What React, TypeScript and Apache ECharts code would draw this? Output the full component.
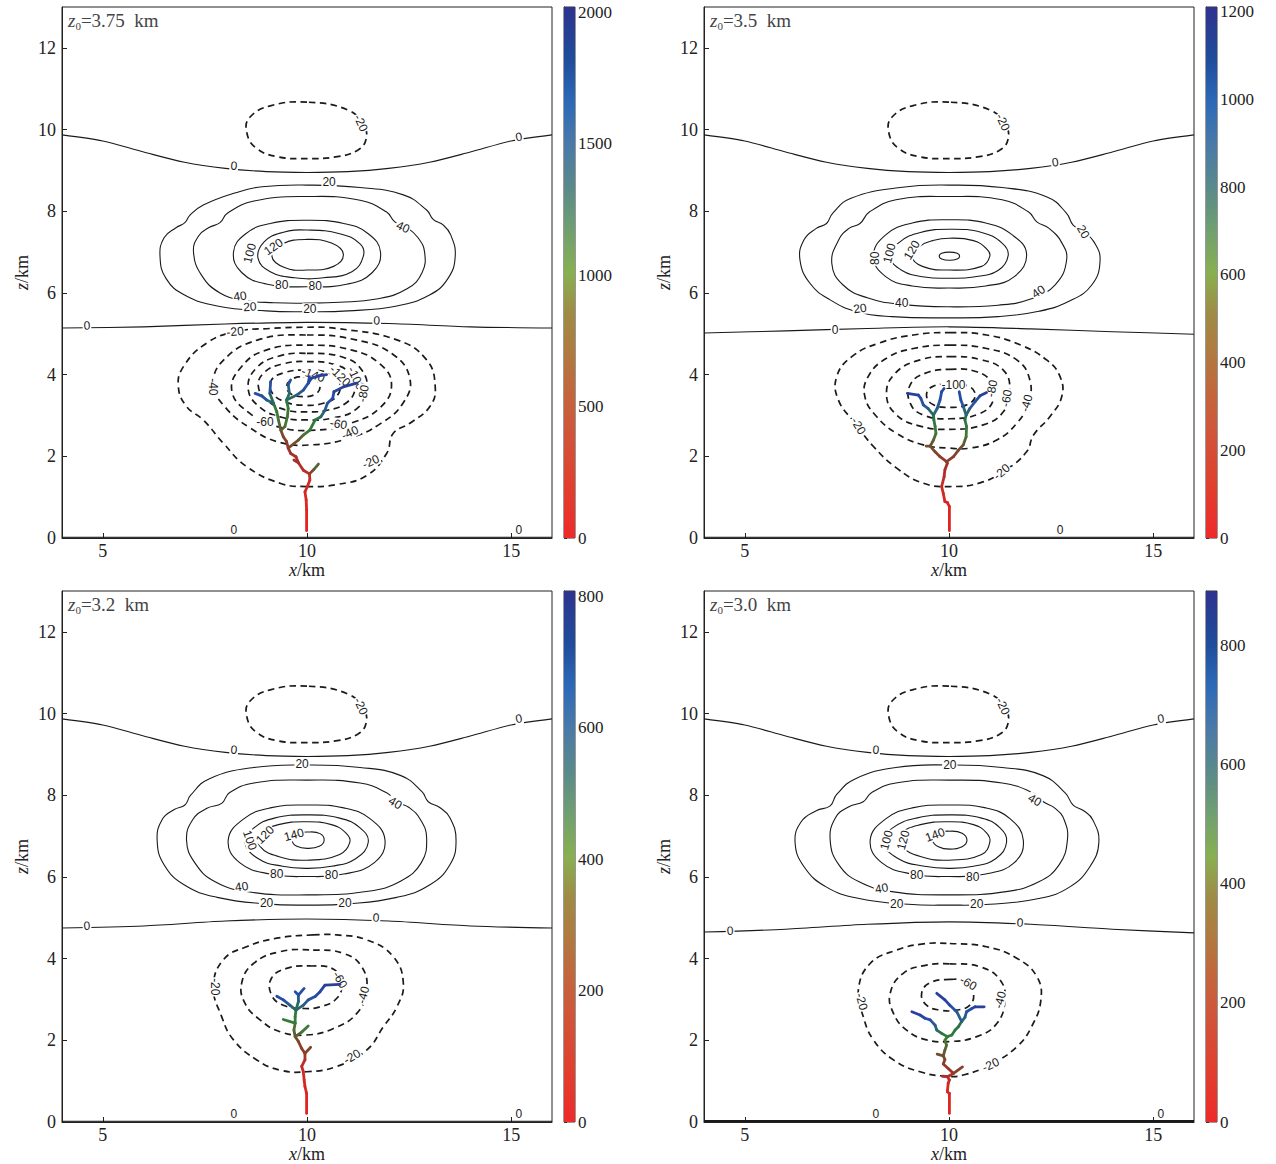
import React, { useEffect, useRef } from 'react';
import * as echarts from 'echarts';

const SERIF = '"Liberation Serif", "Times New Roman", serif';
const SANS = '"Liberation Sans", Arial, sans-serif';

// ---------- axes ----------
const X_TICKS = [5, 10, 15];
const Y_TICKS = [0, 2, 4, 6, 8, 10, 12];
const CB1_TICKS = [0, 500, 1000, 1500, 2000];
const CB2_TICKS = [0, 200, 400, 600, 800, 1000, 1200];
const CB3_TICKS = [0, 200, 400, 600, 800];
const CB4_TICKS = [0, 200, 400, 600, 800];
const CB_MAX = [2020, 1211, 808, 892];
const TITLES = ['3.75', '3.5', '3.2', '3.0'];

// ---------- colour maps ----------
const CB_STOPS = [
  [0, '#ee2a2a'], [0.1, '#e0402e'], [0.2, '#d0553a'], [0.27, '#c4653c'], [0.35, '#b07a40'],
  [0.42, '#a08a45'], [0.5, '#88b050'], [0.58, '#70a070'], [0.66, '#5a8a8a'], [0.74, '#4a7aa8'],
  [0.82, '#2c6ab8'], [0.9, '#1f4d9c'], [1, '#2e3390'],
];
const TREE_COLORS = ['#e8201e', '#d02a24', '#a8302a', '#87402a', '#6a5230', '#3f7a36', '#2e7a3c', '#2a6a60', '#2856a0', '#244aa8', '#2a3e9c'];

// ---------- shared contours ----------
const UPPER_ZERO = [[4, 9.87], [5, 9.72], [6, 9.45], [7, 9.2], [8, 9.05], [9, 8.97], [10, 8.95], [11, 8.97], [12, 9.05], [13, 9.2], [14, 9.45], [15, 9.72], [16, 9.87]];
const UPPER_NEG20 = [[10, 10.67], [9.1, 10.58], [8.6, 10.3], [8.52, 9.95], [8.75, 9.55], [9.3, 9.33], [10, 9.29], [10.7, 9.33], [11.25, 9.5], [11.45, 9.78], [11.38, 10.12], [11.0, 10.48]];
const GROUND_ZERO = [[4, 0.02], [16, 0.02]];

// ---------- panel 1 (z0 = 3.75 km) ----------
const P1_ZERO = [[4, 5.14], [6, 5.17], [8, 5.24], [10, 5.28], [12, 5.25], [14, 5.17], [16, 5.14]];
const P1_C20 = [[10, 8.64], [11.3, 8.58], [12.36, 8.4], [12.93, 8.03], [13.09, 7.8], [13.34, 7.66], [13.52, 7.42], [13.63, 6.9], [13.45, 6.35], [13.0, 5.95], [12.2, 5.68], [11.0, 5.56], [10, 5.54], [9.0, 5.56], [7.8, 5.68], [7.0, 5.95], [6.55, 6.35], [6.4, 6.9], [6.5, 7.35], [6.8, 7.6], [7.01, 7.72], [7.13, 7.9], [7.46, 8.15], [8.28, 8.46], [8.9, 8.6]];
const P1_C40 = [[10, 8.36], [11.3, 8.27], [11.95, 7.98], [12.15, 7.74], [12.45, 7.6], [12.72, 7.35], [12.88, 7.0], [12.82, 6.5], [12.45, 6.1], [11.7, 5.85], [10.8, 5.77], [10, 5.75], [9.2, 5.76], [8.44, 5.82], [7.87, 6.0], [7.42, 6.43], [7.22, 7.01], [7.35, 7.4], [7.6, 7.6], [7.87, 7.72], [8.05, 7.95], [8.7, 8.25]];
const P1_C80 = [[10, 7.78], [10.9, 7.7], [11.5, 7.45], [11.8, 7.0], [11.6, 6.5], [11, 6.22], [10, 6.15], [9, 6.22], [8.4, 6.5], [8.2, 7.0], [8.5, 7.45], [9.1, 7.7]];
const P1_C100 = [[10, 7.54], [10.8, 7.45], [11.3, 7.2], [11.38, 6.9], [11.1, 6.52], [10.4, 6.37], [9.7, 6.37], [9.1, 6.52], [8.8, 6.85], [8.95, 7.25], [9.4, 7.48]];
const P1_C120 = [[10, 7.31], [10.6, 7.22], [10.89, 6.95], [10.65, 6.65], [10, 6.56], [9.45, 6.62], [9.14, 6.9], [9.4, 7.2]];
const P1_N20 = [[9.99, 1.26], [10.73, 1.31], [11.46, 1.53], [11.95, 2.07], [12.11, 2.56], [12.52, 2.81], [13.01, 3.22], [13.14, 3.7], [12.93, 4.36], [12.2, 4.85], [10.73, 5.13], [10.0, 5.16], [9.1, 5.13], [8.24, 5.05], [7.54, 4.77], [6.97, 4.19], [6.85, 3.7], [7.05, 3.22], [7.46, 2.89], [7.95, 2.32], [8.52, 1.75], [9.34, 1.34]];
const P1_N40 = [[10, 4.97], [11.2, 4.85], [12.1, 4.5], [12.52, 3.9], [12.35, 3.3], [11.8, 2.8], [11.05, 2.45], [10.1, 2.28], [9.3, 2.35], [8.6, 2.7], [8.0, 3.2], [7.71, 3.75], [7.95, 4.35], [8.8, 4.85]];
const P1_N60 = [[10, 4.72], [11.1, 4.6], [11.8, 4.25], [12.07, 3.75], [11.8, 3.2], [11.1, 2.82], [10.2, 2.64], [9.3, 2.72], [8.6, 3.05], [8.16, 3.6], [8.4, 4.2], [9.0, 4.6]];
const P1_N80 = [[10, 4.52], [10.9, 4.42], [11.35, 4.1], [11.46, 3.6], [11.2, 3.15], [10.6, 2.93], [10, 2.89], [9.4, 2.95], [8.85, 3.2], [8.56, 3.65], [8.75, 4.15], [9.3, 4.45]];
const P1_N100 = [[10, 4.32], [10.7, 4.24], [11.1, 3.98], [11.18, 3.65], [10.95, 3.3], [10.45, 3.12], [10, 3.09], [9.5, 3.13], [9.05, 3.35], [8.81, 3.7], [8.95, 4.05], [9.4, 4.26]];
const P1_N120 = [[10, 4.11], [10.5, 4.05], [10.78, 3.85], [10.75, 3.5], [10.4, 3.3], [9.95, 3.25], [9.5, 3.32], [9.15, 3.55], [9.12, 3.85], [9.45, 4.05]];
const P1_N140 = [[9.9, 3.95], [10.2, 3.88], [10.32, 3.7], [10.2, 3.52], [9.9, 3.46], [9.62, 3.52], [9.5, 3.7], [9.62, 3.88]];
const P1_LABELS = [
  [8.21, 9.11, '0', -5], [15.19, 9.82, '0', 10], [11.32, 10.16, '-20', -65], [10.54, 8.72, '20', 0],
  [12.35, 7.61, '40', -25], [8.6, 6.97, '100', 75], [9.18, 7.13, '120', 35], [9.38, 6.19, '80', 0],
  [10.2, 6.17, '80', 0], [8.36, 5.92, '40', 8], [8.6, 5.66, '20', 3], [10.07, 5.6, '20', 0],
  [11.71, 5.32, '0', -2], [4.61, 5.2, '0', 2], [8.24, 5.05, '-20', 5], [7.71, 3.7, '-40', -90],
  [10.15, 4.0, '-140', -20], [10.81, 3.97, '-120', -45], [11.2, 3.91, '-100', -65], [11.38, 3.54, '-80', 80],
  [8.97, 2.85, '-60', 0], [10.77, 2.79, '-60', -10], [11.05, 2.58, '-40', 25], [11.56, 1.87, '-20', 25],
  [8.21, 0.2, '0', 0], [15.19, 0.2, '0', 0],
];
const P1_TRUNK = [[9.99, 0.18, 0], [9.99, 0.69, 40], [9.98, 0.93, 80], [9.95, 1.13, 120], [10.01, 1.26, 150], [10.07, 1.42, 190], [10.06, 1.57, 250], [9.91, 1.66, 290], [9.79, 1.84, 330], [9.73, 1.99, 370], [9.6, 2.07, 410], [9.54, 2.2, 450], [9.5, 2.36, 520], [9.42, 2.48, 600], [9.36, 2.64, 700]];
const P1_SPUR1 = [[10.06, 1.57, 250], [10.16, 1.67, 600], [10.28, 1.81, 900]];
const P1_SPUR2 = [[9.79, 1.84, 330], [9.68, 1.91, 420]];
const P1_A = [[9.36, 2.64, 700], [9.3, 2.89, 880], [9.26, 3.09, 1000], [9.18, 3.3, 1150], [9.09, 3.54, 1400], [9.11, 3.83, 1650]];
const P1_A2 = [[9.18, 3.3, 1150], [9.01, 3.38, 1450], [8.89, 3.48, 1600], [8.73, 3.54, 1750]];
const P1_B = [[9.36, 2.64, 700], [9.46, 2.73, 850], [9.52, 2.97, 980], [9.54, 3.17, 1080], [9.5, 3.38, 1180], [9.57, 3.54, 1350], [9.54, 3.75, 1500], [9.6, 3.87, 1650]];
const P1_B2 = [[9.5, 3.38, 1180], [9.75, 3.5, 1400], [9.91, 3.62, 1550], [10.03, 3.79, 1680], [10.11, 3.91, 1800], [10.28, 3.97, 1920], [10.48, 4.0, 2000]];
const P1_B3 = [[10.03, 3.79, 1680], [10.06, 3.95, 1850]];
const P1_R = [[9.54, 2.2, 450], [9.79, 2.4, 700], [9.91, 2.52, 850], [10.07, 2.64, 980], [10.2, 2.89, 1150], [10.34, 2.97, 1300], [10.44, 3.13, 1450], [10.5, 3.3, 1580], [10.63, 3.42, 1700], [10.66, 3.58, 1800], [10.89, 3.7, 1900], [11.22, 3.79, 2000]];

// ---------- panel 2 (z0 = 3.5 km) ----------
const P2_ZERO = [[4, 5.02], [6, 5.07], [8, 5.13], [10, 5.17], [12, 5.12], [14, 5.05], [16, 4.99]];
const P2_C20 = [[10, 8.64], [11.3, 8.58], [12.4, 8.35], [12.88, 7.95], [13.04, 7.66], [13.3, 7.5], [13.55, 7.25], [13.7, 6.8], [13.5, 6.2], [12.95, 5.8], [12.2, 5.55], [11.2, 5.42], [10, 5.39], [8.6, 5.42], [7.74, 5.54], [7.09, 5.83], [6.6, 6.23], [6.35, 6.81], [6.45, 7.3], [6.75, 7.58], [7.0, 7.7], [7.15, 7.95], [7.6, 8.32], [8.8, 8.58]];
const P2_C40 = [[10, 8.36], [11.3, 8.28], [11.95, 7.98], [12.15, 7.74], [12.45, 7.58], [12.75, 7.25], [12.88, 6.8], [12.6, 6.2], [12.0, 5.85], [11.2, 5.7], [10, 5.66], [8.84, 5.72], [8.0, 5.88], [7.4, 6.2], [7.13, 6.72], [7.3, 7.3], [7.55, 7.58], [7.82, 7.7], [8.05, 7.98], [8.7, 8.28]];
const P2_C80 = [[10, 7.79], [10.9, 7.71], [11.55, 7.42], [11.9, 6.95], [11.6, 6.4], [10.9, 6.17], [10, 6.12], [9.1, 6.17], [8.45, 6.4], [8.15, 6.9], [8.45, 7.42], [9.1, 7.71]];
const P2_C100 = [[10, 7.56], [10.8, 7.48], [11.3, 7.22], [11.45, 6.92], [11.2, 6.55], [10.6, 6.39], [10, 6.36], [9.4, 6.39], [8.85, 6.55], [8.55, 6.9], [8.8, 7.25], [9.3, 7.48]];
const P2_C120 = [[10, 7.34], [10.6, 7.28], [10.92, 7.08], [11.0, 6.9], [10.8, 6.65], [10, 6.56], [9.35, 6.65], [9.09, 6.9], [9.3, 7.15], [9.6, 7.28]];
const P2_C140 = [[10.01, 7.0], [10.2, 6.97], [10.26, 6.9], [10.2, 6.83], [10.01, 6.8], [9.82, 6.83], [9.76, 6.9], [9.82, 6.97]];
const P2_N20 = [[10.02, 5.03], [10.92, 4.97], [11.74, 4.73], [12.39, 4.36], [12.72, 3.95], [12.76, 3.46], [12.47, 2.97], [12.07, 2.52], [11.9, 2.11], [11.41, 1.68], [10.76, 1.35], [10.02, 1.26], [9.37, 1.34], [8.72, 1.71], [8.15, 2.24], [7.7, 2.81], [7.29, 3.38], [7.25, 3.95], [7.62, 4.44], [8.31, 4.78], [9.13, 4.97]];
const P2_N40 = [[10.02, 4.72], [10.92, 4.64], [11.66, 4.36], [11.98, 3.87], [11.94, 3.3], [11.66, 2.81], [11.17, 2.4], [10.51, 2.2], [10.02, 2.2], [9.37, 2.28], [8.72, 2.56], [8.23, 2.97], [7.94, 3.46], [8.02, 3.95], [8.47, 4.4], [9.13, 4.64]];
const P2_N60 = [[10.02, 4.44], [10.76, 4.37], [11.33, 4.11], [11.49, 3.62], [11.33, 3.09], [10.84, 2.77], [10.02, 2.66], [9.29, 2.74], [8.72, 3.01], [8.47, 3.5], [8.68, 4.03], [9.29, 4.36]];
const P2_N80 = [[10.02, 4.13], [10.68, 4.07], [11.05, 3.79], [11.09, 3.38], [10.76, 3.05], [10.02, 2.92], [9.37, 3.01], [9.05, 3.3], [9.05, 3.75], [9.41, 4.03]];
const P2_N100 = [[10.02, 3.77], [10.51, 3.7], [10.64, 3.46], [10.43, 3.26], [10.02, 3.2], [9.62, 3.26], [9.45, 3.48], [9.58, 3.7]];
const P2_LABELS = [
  [11.32, 10.18, '-20', -65], [12.6, 9.2, '0', 8], [13.29, 7.5, '20', -60], [8.19, 6.85, '80', 90],
  [8.54, 6.97, '100', 75], [9.09, 7.05, '120', 60], [8.84, 5.75, '40', 0], [7.82, 5.62, '20', 8],
  [12.19, 6.03, '40', 35], [7.21, 5.1, '0', 0], [7.78, 2.74, '-20', -60], [10.11, 3.75, '-100', 0],
  [11.05, 3.66, '-80', 80], [11.41, 3.42, '-60', 80], [11.9, 3.3, '-40', 75], [11.29, 1.62, '-20', 40],
  [12.72, 0.2, '0', 0],
];
const P2_TRUNK = [[10.01, 0.18, 0], [10.01, 0.77, 40], [9.96, 0.87, 60], [9.9, 0.89, 70], [9.86, 1.09, 100], [9.82, 1.26, 130], [9.88, 1.5, 170], [9.9, 1.67, 210], [9.96, 1.83, 260], [9.94, 1.87, 290]];
const P2_L = [[9.94, 1.87, 290], [9.78, 1.99, 330], [9.66, 2.11, 370], [9.54, 2.25, 420], [9.62, 2.4, 490], [9.68, 2.56, 560], [9.66, 2.73, 630], [9.63, 2.89, 700], [9.62, 3.01, 780]];
const P2_LS = [[9.54, 2.25, 420], [9.44, 2.25, 470]];
const P2_L1 = [[9.62, 3.01, 780], [9.49, 3.17, 860], [9.37, 3.26, 930], [9.31, 3.42, 1000], [9.25, 3.5, 1080], [8.98, 3.54, 1200]];
const P2_L2 = [[9.62, 3.01, 780], [9.71, 3.17, 860], [9.78, 3.38, 950], [9.82, 3.58, 1050], [9.88, 3.66, 1120]];
const P2_R = [[9.94, 1.87, 290], [10.11, 1.99, 340], [10.23, 2.15, 390], [10.35, 2.28, 440], [10.42, 2.48, 520], [10.43, 2.73, 620], [10.39, 2.89, 700], [10.42, 3.01, 780]];
const P2_R1 = [[10.42, 3.01, 780], [10.35, 3.22, 880], [10.29, 3.38, 980], [10.25, 3.58, 1100]];
const P2_R2 = [[10.42, 3.01, 780], [10.51, 3.17, 870], [10.64, 3.34, 960], [10.76, 3.48, 1060], [10.92, 3.56, 1211]];

// ---------- panel 3 (z0 = 3.2 km) ----------
const P3_ZERO = [[4, 4.75], [6, 4.8], [8, 4.92], [10, 4.97], [12, 4.92], [14, 4.8], [16, 4.75]];
const P3_C20 = [[10, 8.74], [11.3, 8.68], [12.3, 8.48], [12.82, 8.08], [12.97, 7.84], [13.25, 7.7], [13.5, 7.45], [13.65, 6.9], [13.5, 6.3], [13.0, 5.8], [12.2, 5.5], [11.0, 5.34], [10, 5.31], [9.0, 5.34], [7.8, 5.5], [7.0, 5.8], [6.5, 6.3], [6.33, 6.9], [6.45, 7.4], [6.75, 7.65], [7.01, 7.76], [7.15, 8.0], [7.6, 8.4], [8.7, 8.68]];
const P3_C40 = [[10, 8.37], [11.3, 8.3], [11.95, 8.06], [12.2, 7.84], [12.5, 7.7], [12.78, 7.4], [12.93, 6.95], [12.8, 6.35], [12.3, 5.9], [11.5, 5.65], [10, 5.56], [8.6, 5.63], [7.75, 5.88], [7.25, 6.35], [7.05, 6.9], [7.2, 7.4], [7.55, 7.68], [7.91, 7.8], [8.1, 8.06], [8.7, 8.3]];
const P3_C80 = [[10, 7.76], [10.9, 7.69], [11.55, 7.42], [11.91, 6.9], [11.65, 6.35], [10.9, 6.07], [10, 6.01], [9.1, 6.07], [8.35, 6.35], [8.07, 6.9], [8.45, 7.42], [9.1, 7.69]];
const P3_C100 = [[10, 7.52], [10.8, 7.44], [11.3, 7.2], [11.5, 6.85], [11.2, 6.45], [10.6, 6.26], [10, 6.21], [9.4, 6.26], [8.8, 6.45], [8.48, 6.85], [8.7, 7.2], [9.2, 7.44]];
const P3_C120 = [[10, 7.35], [10.6, 7.28], [10.95, 7.08], [11.05, 6.85], [10.8, 6.55], [10, 6.41], [9.3, 6.5], [8.85, 6.75], [8.85, 7.05], [9.3, 7.28]];
const P3_C140 = [[10.03, 7.1], [10.32, 7.06], [10.42, 6.9], [10.3, 6.75], [10.03, 6.7], [9.75, 6.75], [9.64, 6.9], [9.75, 7.05]];
const P3_N20 = [[10.15, 4.58], [10.73, 4.58], [11.46, 4.46], [12.11, 4.05], [12.36, 3.39], [12.2, 2.82], [11.87, 2.33], [11.46, 1.76], [10.73, 1.36], [9.99, 1.23], [9.34, 1.27], [8.77, 1.52], [8.2, 2.01], [7.91, 2.58], [7.71, 3.31], [7.95, 3.97], [8.52, 4.29], [9.26, 4.5]];
const P3_N40 = [[10.15, 4.21], [10.89, 4.13], [11.34, 3.8], [11.46, 3.23], [11.22, 2.66], [10.65, 2.29], [9.99, 2.13], [9.34, 2.21], [8.85, 2.5], [8.48, 2.91], [8.4, 3.4], [8.69, 3.88], [9.34, 4.17]];
const P3_N60 = [[10.07, 3.82], [10.65, 3.74], [10.85, 3.4], [10.73, 3.03], [10.32, 2.82], [9.91, 2.78], [9.42, 2.86], [9.13, 3.11], [9.13, 3.52], [9.5, 3.76]];
const P3_LABELS = [
  [11.32, 10.18, '-20', -65], [8.21, 9.11, '0', -5], [15.19, 9.87, '0', 10], [9.88, 8.76, '20', 0],
  [12.16, 7.81, '40', -30], [8.6, 6.9, '100', -70], [8.97, 7.03, '120', 45], [9.68, 7.03, '140', 15],
  [9.26, 6.06, '80', 0], [10.6, 6.05, '80', 0], [8.4, 5.76, '40', 8], [9.01, 5.37, '20', 0],
  [10.93, 5.37, '20', 0], [4.61, 4.8, '0', 3], [11.69, 5.0, '0', -3], [7.75, 3.31, '-20', -90],
  [10.81, 3.48, '-60', -60], [11.38, 3.11, '-40', 75], [11.1, 1.6, '-20', 30],
  [8.21, 0.2, '0', 0], [15.19, 0.2, '0', 0],
];
const P3_TRUNK = [[9.99, 0.21, 0], [9.99, 0.7, 30], [9.95, 0.87, 45], [9.93, 1.03, 60], [9.91, 1.23, 80], [9.87, 1.36, 100], [9.95, 1.52, 130], [9.95, 1.68, 170], [9.87, 1.8, 200], [9.79, 1.97, 240], [9.71, 2.09, 280], [9.68, 2.25, 330], [9.71, 2.42, 380], [9.71, 2.58, 430], [9.73, 2.74, 490]];
const P3_S1 = [[9.95, 1.68, 170], [10.09, 1.83, 260]];
const P3_S2 = [[9.71, 2.09, 280], [9.87, 2.2, 360], [10.03, 2.35, 420]];
const P3_S3 = [[9.71, 2.42, 380], [9.42, 2.51, 450]];
const P3_L = [[9.73, 2.74, 490], [9.58, 2.86, 580], [9.42, 2.99, 650], [9.26, 3.08, 720]];
const P3_M = [[9.73, 2.74, 490], [9.79, 2.95, 560], [9.79, 3.11, 620], [9.71, 3.19, 680]];
const P3_M2 = [[9.79, 3.11, 620], [9.93, 3.27, 700]];
const P3_R = [[9.73, 2.74, 490], [9.91, 2.86, 570], [10.03, 2.99, 620], [10.2, 3.07, 670], [10.32, 3.19, 720], [10.44, 3.35, 770], [10.81, 3.37, 808]];

// ---------- panel 4 (z0 = 3.0 km) ----------
const P4_ZERO = [[4, 4.65], [6, 4.72], [8, 4.84], [10, 4.9], [12, 4.84], [14, 4.72], [16, 4.63]];
const P4_C20 = [[10, 8.74], [11.3, 8.68], [12.3, 8.48], [12.85, 8.05], [13.04, 7.76], [13.3, 7.62], [13.52, 7.4], [13.67, 6.85], [13.45, 6.25], [12.95, 5.75], [12.2, 5.47], [11.0, 5.33], [10, 5.31], [9.0, 5.33], [7.8, 5.47], [7.0, 5.75], [6.45, 6.25], [6.23, 6.85], [6.38, 7.35], [6.75, 7.62], [7.09, 7.74], [7.25, 8.02], [7.7, 8.4], [8.7, 8.68]];
const P4_C40 = [[10, 8.37], [11.3, 8.3], [12.05, 8.06], [12.31, 7.84], [12.6, 7.68], [12.82, 7.4], [12.9, 6.9], [12.7, 6.3], [12.2, 5.88], [11.4, 5.64], [10, 5.56], [8.6, 5.64], [7.8, 5.88], [7.3, 6.3], [7.09, 6.9], [7.22, 7.45], [7.55, 7.72], [7.9, 7.84], [8.1, 8.06], [8.7, 8.3]];
const P4_C80 = [[10, 7.76], [10.9, 7.69], [11.5, 7.42], [11.82, 6.9], [11.6, 6.35], [10.9, 6.07], [10, 6.01], [9.1, 6.07], [8.35, 6.35], [8.07, 6.9], [8.45, 7.42], [9.1, 7.69]];
const P4_C100 = [[10, 7.52], [10.8, 7.44], [11.25, 7.2], [11.41, 6.85], [11.15, 6.45], [10.6, 6.26], [10, 6.21], [9.4, 6.26], [8.75, 6.45], [8.39, 6.85], [8.62, 7.2], [9.2, 7.44]];
const P4_C120 = [[10, 7.35], [10.6, 7.28], [10.92, 7.08], [11.0, 6.85], [10.8, 6.55], [10, 6.41], [9.3, 6.5], [8.85, 6.75], [8.82, 7.05], [9.3, 7.28]];
const P4_C140 = [[10.02, 7.12], [10.32, 7.07], [10.44, 6.9], [10.32, 6.74], [10.02, 6.68], [9.74, 6.74], [9.6, 6.9], [9.72, 7.07]];
const P4_N20 = [[10.02, 4.37], [10.92, 4.29], [11.66, 4.01], [12.15, 3.56], [12.25, 2.99], [12.02, 2.33], [11.66, 1.84], [11.0, 1.4], [10.35, 1.15], [9.94, 1.12], [9.29, 1.23], [8.64, 1.52], [8.15, 2.01], [7.9, 2.58], [7.78, 3.23], [8.07, 3.88], [8.72, 4.21], [9.37, 4.36]];
const P4_N40 = [[10.02, 3.87], [10.76, 3.8], [11.25, 3.48], [11.37, 2.99], [11.17, 2.41], [10.68, 2.09], [10.02, 1.97], [9.45, 2.01], [8.96, 2.25], [8.64, 2.66], [8.56, 3.15], [8.88, 3.64], [9.45, 3.84]];
const P4_N60 = [[10.02, 3.49], [10.43, 3.44], [10.6, 3.15], [10.51, 2.86], [10.19, 2.74], [9.78, 2.74], [9.45, 2.86], [9.33, 3.15], [9.54, 3.41]];
const P4_LABELS = [
  [11.32, 10.18, '-20', -65], [8.21, 9.11, '0', -5], [15.19, 9.87, '0', 10], [10.02, 8.74, '20', 0],
  [12.1, 7.88, '40', -30], [8.47, 6.9, '100', 75], [8.88, 6.9, '120', 75], [9.66, 7.03, '140', 20],
  [9.21, 6.05, '80', 0], [10.58, 6.0, '80', 0], [8.35, 5.72, '40', 10], [8.72, 5.34, '20', 0],
  [10.68, 5.34, '20', 0], [4.64, 4.68, '0', 3], [11.74, 4.88, '0', -3], [7.86, 2.95, '-20', -75],
  [10.47, 3.4, '-60', -30], [11.25, 2.99, '-40', 75], [11.02, 1.4, '-20', 25],
  [8.21, 0.2, '0', 0], [15.19, 0.2, '0', 0],
];
const P4_TRUNK = [[10.01, 0.21, 0], [10.01, 0.7, 40], [9.96, 0.74, 50], [9.98, 0.95, 80], [10.01, 1.03, 100], [9.96, 1.11, 130], [10.11, 1.19, 160], [9.98, 1.31, 190], [9.86, 1.42, 230], [9.9, 1.53, 270], [9.86, 1.62, 300], [9.9, 1.76, 350], [9.94, 1.88, 390], [9.9, 2.0, 420], [9.96, 2.09, 450]];
const P4_S1 = [[9.96, 1.11, 130], [9.84, 1.12, 170]];
const P4_S2 = [[10.11, 1.19, 160], [10.33, 1.35, 260]];
const P4_S3 = [[9.86, 1.62, 300], [9.71, 1.66, 340]];
const P4_L = [[9.96, 2.09, 450], [9.82, 2.17, 520], [9.7, 2.25, 590], [9.66, 2.37, 650], [9.54, 2.5, 710], [9.41, 2.54, 760], [9.29, 2.62, 820], [9.09, 2.7, 880]];
const P4_R = [[9.96, 2.09, 450], [10.07, 2.13, 480], [10.15, 2.25, 520], [10.23, 2.33, 550], [10.31, 2.46, 590], [10.39, 2.56, 640], [10.43, 2.7, 700], [10.56, 2.78, 760], [10.64, 2.82, 800], [10.86, 2.82, 892]];
const P4_M = [[10.31, 2.46, 590], [10.19, 2.7, 680], [10.02, 2.86, 760], [9.9, 2.99, 820], [9.7, 3.15, 880]];

// ---------- assembly ----------
const solid = (pts) => ({ pts, closed: true, dashed: false });
const dashed = (pts) => ({ pts, closed: true, dashed: true });
const open = (pts, w = 1.1) => ({ pts, closed: false, dashed: false, w });

const PANELS = [
  {
    left: 62, top: 7, cbLeft: 564, ticks: CB1_TICKS,
    contours: [open(UPPER_ZERO), dashed(UPPER_NEG20), open(GROUND_ZERO), open(P1_ZERO), solid(P1_C20), solid(P1_C40), solid(P1_C80), solid(P1_C100), solid(P1_C120),
      dashed(P1_N20), dashed(P1_N40), dashed(P1_N60), dashed(P1_N80), dashed(P1_N100), dashed(P1_N120), dashed(P1_N140)],
    labels: P1_LABELS,
    tree: [P1_TRUNK, P1_SPUR1, P1_SPUR2, P1_A, P1_A2, P1_B, P1_B2, P1_B3, P1_R],
  },
  {
    left: 704, top: 7, cbLeft: 1206, ticks: CB2_TICKS,
    contours: [open(UPPER_ZERO), dashed(UPPER_NEG20), open(GROUND_ZERO), open(P2_ZERO), solid(P2_C20), solid(P2_C40), solid(P2_C80), solid(P2_C100), solid(P2_C120), solid(P2_C140),
      dashed(P2_N20), dashed(P2_N40), dashed(P2_N60), dashed(P2_N80), dashed(P2_N100)],
    labels: P2_LABELS,
    tree: [P2_TRUNK, P2_L, P2_LS, P2_L1, P2_L2, P2_R, P2_R1, P2_R2],
  },
  {
    left: 62, top: 591, cbLeft: 564, ticks: CB3_TICKS,
    contours: [open(UPPER_ZERO), dashed(UPPER_NEG20), open(GROUND_ZERO), open(P3_ZERO), solid(P3_C20), solid(P3_C40), solid(P3_C80), solid(P3_C100), solid(P3_C120), solid(P3_C140),
      dashed(P3_N20), dashed(P3_N40), dashed(P3_N60)],
    labels: P3_LABELS,
    tree: [P3_TRUNK, P3_S1, P3_S2, P3_S3, P3_L, P3_M, P3_M2, P3_R],
  },
  {
    left: 704, top: 591, cbLeft: 1206, ticks: CB4_TICKS,
    contours: [open(UPPER_ZERO), dashed(UPPER_NEG20), open(GROUND_ZERO, 2.6), open(P4_ZERO), solid(P4_C20), solid(P4_C40), solid(P4_C80), solid(P4_C100), solid(P4_C120), solid(P4_C140),
      dashed(P4_N20), dashed(P4_N40), dashed(P4_N60)],
    labels: P4_LABELS,
    tree: [P4_TRUNK, P4_S1, P4_S2, P4_S3, P4_L, P4_R, P4_M],
  },
];

function buildOption() {
  const grid: any[] = [];
  const xAxis: any[] = [];
  const yAxis: any[] = [];
  const series: any[] = [];
  const visualMap: any[] = [];
  const graphic: any[] = [];
  const axisText = { fontFamily: SERIF, fontSize: 18, color: '#222' };
  const plain = (v) => String(v);

  PANELS.forEach((p, i) => {
    const max = CB_MAX[i];
    const g = grid.length;
    grid.push({ left: p.left, top: p.top, width: 490, height: 531, show: true, borderColor: '#222', borderWidth: 1, backgroundColor: 'transparent' });
    const cb = grid.length;
    grid.push({ left: p.cbLeft, top: p.top, width: 11, height: 531, show: true, borderColor: '#333', borderWidth: 1 });

    xAxis.push({
      gridIndex: g, type: 'value', min: 4, max: 16,
      name: '{i|x}/km', nameLocation: 'middle', nameGap: 22,
      nameTextStyle: { ...axisText, rich: { i: { ...axisText, fontStyle: 'italic' } } },
      axisLine: { show: true, lineStyle: { color: '#222', width: 1 } },
      axisTick: { inside: true, length: 5, customValues: X_TICKS, lineStyle: { color: '#222' } },
      axisLabel: { ...axisText, margin: 4, customValues: X_TICKS, formatter: plain },
      splitLine: { show: false },
    });
    yAxis.push({
      gridIndex: g, type: 'value', min: 0, max: 13,
      name: '{i|z}/km', nameLocation: 'middle', nameGap: 31,
      nameTextStyle: { ...axisText, rich: { i: { ...axisText, fontStyle: 'italic' } } },
      axisLine: { show: true, lineStyle: { color: '#222', width: 1 } },
      axisTick: { inside: true, length: 5, customValues: Y_TICKS, lineStyle: { color: '#222' } },
      axisLabel: { ...axisText, margin: 6, customValues: Y_TICKS, formatter: plain },
      splitLine: { show: false },
    });
    xAxis.push({ gridIndex: cb, type: 'value', min: 0, max: 1, show: false });
    yAxis.push({
      gridIndex: cb, type: 'value', position: 'right', min: 0, max,
      axisLine: { show: true, lineStyle: { color: '#333' } },
      axisTick: { show: true, length: 3, customValues: p.ticks, lineStyle: { color: '#333' } },
      axisLabel: { fontFamily: SERIF, fontSize: 17, color: '#222', margin: 3, customValues: p.ticks, formatter: plain },
      splitLine: { show: false },
    });

    // contours
    series.push({
      type: 'custom', xAxisIndex: g, yAxisIndex: g, z: 2, silent: true, clip: true,
      data: p.contours.map((c) => [c.pts[0][0], c.pts[0][1]]),
      renderItem: (params, api) => {
        const c = p.contours[params.dataIndex];
        const pts = c.pts.map((q) => api.coord([q[0], q[1]]));
        return {
          type: c.closed ? 'polygon' : 'polyline',
          shape: { points: pts, smooth: c.closed ? 0.45 : 0.3 },
          style: {
            fill: 'none', stroke: '#1a1a1a',
            lineWidth: c.dashed ? 1.7 : (c.w || 1.1),
            lineDash: c.dashed ? [6.5, 4.5] : null,
          },
        };
      },
    });

    // contour labels (inline, white box interrupts the line)
    series.push({
      type: 'custom', xAxisIndex: g, yAxisIndex: g, z: 3, silent: true,
      data: p.labels.map((l) => [l[0], l[1]]),
      renderItem: (params, api) => {
        const l = p.labels[params.dataIndex];
        const pt = api.coord([l[0], l[1]]);
        return {
          type: 'text', x: pt[0], y: pt[1], rotation: (l[3] * Math.PI) / 180,
          style: {
            text: String(l[2]), fill: '#1a1a1a', fontFamily: SANS, fontSize: 12,
            align: 'center', verticalAlign: 'middle', backgroundColor: '#fff', padding: [0, 1],
          },
        };
      },
    });

    // lightning channel
    const segs: number[][] = [];
    p.tree.forEach((br) => {
      for (let k = 1; k < br.length; k++) segs.push([br[k - 1][0], br[k - 1][1], br[k][0], br[k][1], br[k][2]]);
    });
    const treeIdx = series.length;
    series.push({
      type: 'custom', xAxisIndex: g, yAxisIndex: g, z: 4, silent: true,
      dimensions: ['x1', 'y1', 'x2', 'y2', 'v'],
      encode: { x: [0, 2], y: [1, 3] },
      data: segs,
      renderItem: (params, api) => {
        const a = api.coord([api.value(0), api.value(1)]);
        const b = api.coord([api.value(2), api.value(3)]);
        return {
          type: 'line',
          shape: { x1: a[0], y1: a[1], x2: b[0], y2: b[1] },
          style: { stroke: api.visual('color'), lineWidth: 2.8, lineCap: 'round' },
        };
      },
    });
    visualMap.push({ type: 'continuous', show: false, seriesIndex: [treeIdx], dimension: 4, min: 0, max, inRange: { color: TREE_COLORS } });

    // colour bar
    series.push({
      type: 'custom', xAxisIndex: cb, yAxisIndex: cb, silent: true, z: 1,
      data: [[0, 0]],
      renderItem: (params, api) => {
        const a = api.coord([0, max]);
        const b = api.coord([1, 0]);
        return {
          type: 'rect',
          shape: { x: a[0], y: a[1], width: b[0] - a[0], height: b[1] - a[1] },
          style: { fill: new echarts.graphic.LinearGradient(0, 1, 0, 0, CB_STOPS.map((s) => ({ offset: s[0], color: s[1] }))) },
        };
      },
    });

    graphic.push({
      type: 'text', left: p.left + 6, top: p.top + 4, z: 10,
      style: {
        text: `{i|z}{s|0}{n|=${TITLES[i]}  km}`,
        rich: {
          i: { fontFamily: SERIF, fontSize: 19, fontStyle: 'italic', fill: '#444' },
          s: { fontFamily: SERIF, fontSize: 11, fill: '#444', padding: [10, 0, 0, 0] },
          n: { fontFamily: SERIF, fontSize: 19, fill: '#444' },
        },
      },
    });
  });

  return { animation: false, backgroundColor: '#fff', grid, xAxis, yAxis, series, visualMap, graphic };
}

export default function App() {
  const ref = useRef<HTMLDivElement>(null);
  useEffect(() => {
    const chart = echarts.init(ref.current as HTMLDivElement, null, { renderer: 'svg' });
    chart.setOption(buildOption() as any);
    return () => chart.dispose();
  }, []);
  return <div ref={ref} style={{ position: 'fixed', left: 0, top: 0, width: 1276, height: 1164, background: '#fff' }} />;
}
